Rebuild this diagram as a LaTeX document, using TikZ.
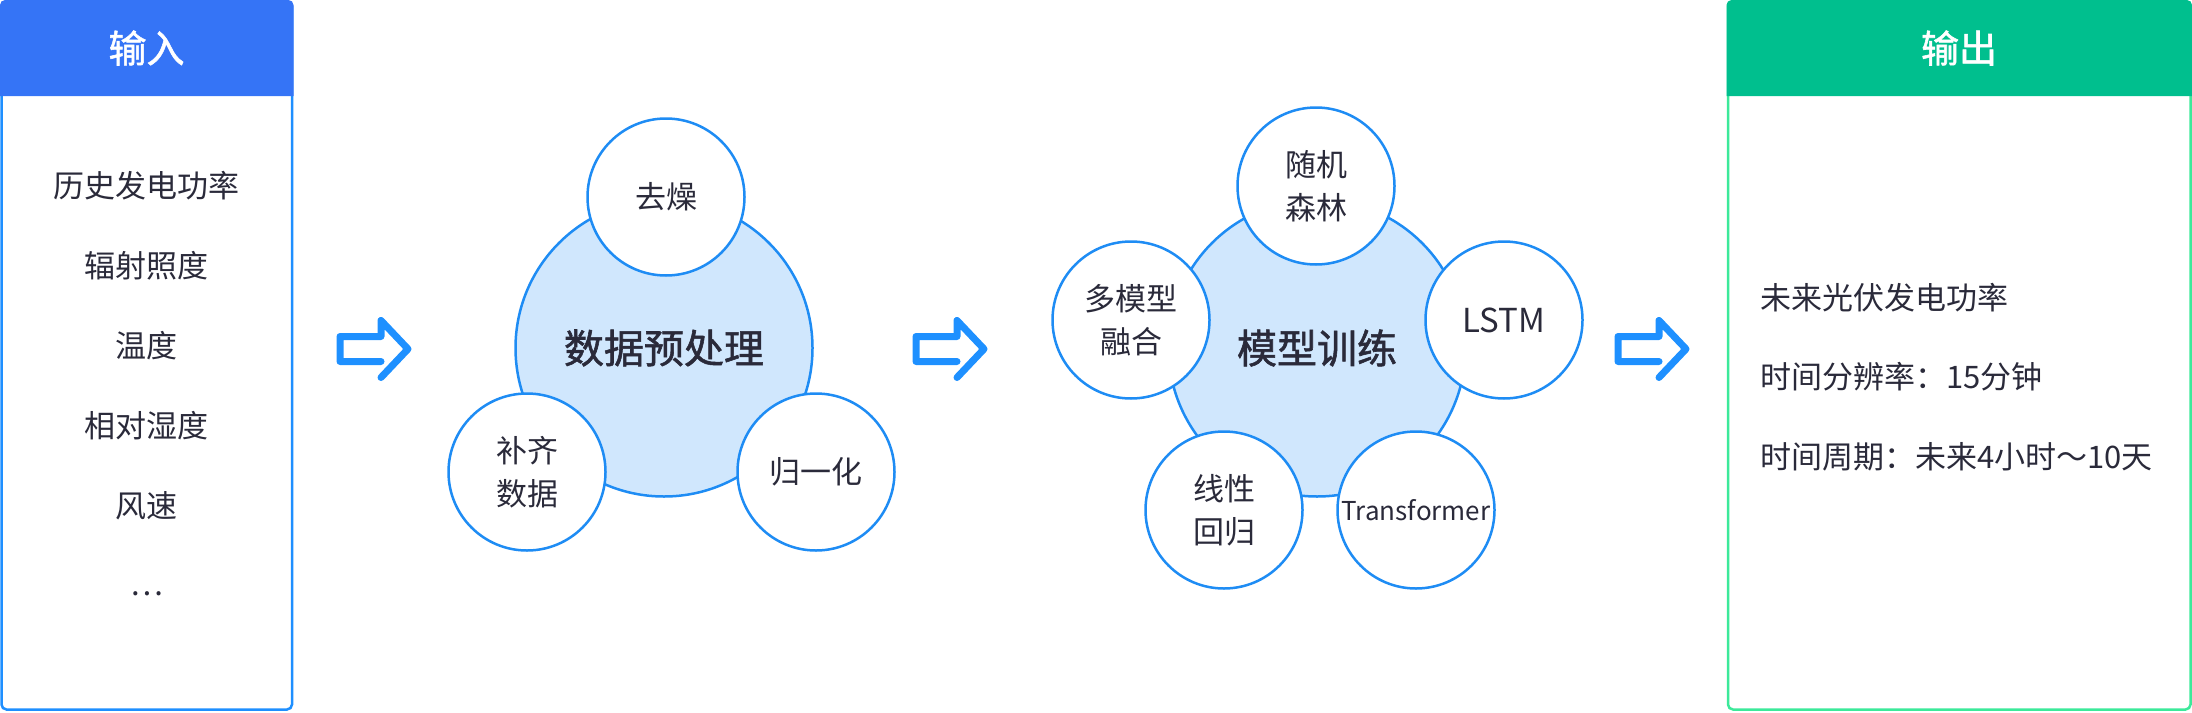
\documentclass[tikz,border=0pt]{standalone}
\usepackage{fontspec}
\setmainfont{Noto Sans CJK SC}
\newfontfamily\medfont{Noto Sans CJK SC}[FakeBold=1.4]
\definecolor{headblue}{HTML}{3574F6}
\definecolor{inborder}{HTML}{1E8FFF}
\definecolor{headgreen}{HTML}{00BF8E}
\definecolor{outborder}{HTML}{3CE99A}
\definecolor{cstroke}{HTML}{1E8CF4}
\definecolor{cfill}{HTML}{D0E7FD}
\definecolor{arrowblue}{HTML}{1E90FF}
\definecolor{textdark}{HTML}{2A2A3A}
\begin{document}
\begin{tikzpicture}[x=1pt,y=-1pt,
  txt/.style={text=textdark, inner sep=0pt, font=\fontsize{31}{43}\selectfont, align=center},
  headtxt/.style={text=white, inner sep=0pt, font=\fontsize{38}{44}\selectfont\medfont},
  bigc/.style={circle, draw=cstroke, fill=cfill, line width=2.5pt, minimum size=297pt, inner sep=0pt,
    text=textdark, font=\fontsize{40}{48}\selectfont\medfont},
  smallc/.style={circle, draw=cstroke, fill=white, line width=2.5pt, minimum size=157pt, inner sep=0pt,
    text=textdark, align=center, font=\fontsize{31}{43}\selectfont},
  arrowicon/.style={draw=arrowblue, line width=7pt, line cap=round, line join=round},
  flowarrow/.pic={\draw[arrowicon] (41,12.5) -- (0,12.5) -- (0,-12.5) -- (41,-12.5) -- (41,-28.5) -- (68,0) -- (41,28.5);}
]
\useasboundingbox (0,0) rectangle (2192,712);

% input panel
\draw[inborder, line width=2.5pt, rounded corners=5pt] (1.5,1.5) rectangle (292,709.5);
\fill[headblue] (0,96) [rounded corners=5pt] -- (0,0) -- (293.5,0) [sharp corners] -- (293.5,96) -- cycle;
\node[headtxt] (intitle) at (146.5,48) {输入};
\node[txt] (in1) at (146.5,186) {历史发电功率};
\node[txt] (in2) at (146.5,266) {辐射照度};
\node[txt] (in3) at (146.5,346) {温度};
\node[txt] (in4) at (146.5,426) {相对湿度};
\node[txt] (in5) at (146.5,506) {风速};
\node[txt] (in6) at (146.5,594) {…};

% output panel
\draw[outborder, line width=2.5pt, rounded corners=5pt] (1728,1.5) rectangle (2190.5,709.5);
\fill[headgreen] (1726.5,96) [rounded corners=5pt] -- (1726.5,0) -- (2192,0) [sharp corners] -- (2192,96) -- cycle;
\node[headtxt] (outtitle) at (1959,48) {输出};
\node[txt, anchor=west] (out1) at (1760,298) {未来光伏发电功率};
\node[txt, anchor=west] (out2) at (1760,377) {时间分辨率：15分钟};
\node[txt, anchor=west] (out3) at (1760,457) {时间周期：未来4小时～10天};

% arrows
\pic at (340,349) {flowarrow};
\pic at (916,349) {flowarrow};
\pic at (1618,349) {flowarrow};

% preprocessing
\node[bigc] (pre) at (664,348) {数据预处理};
\node[smallc] (denoise) at (666,197) {去燥};
\node[smallc] (fill) at (527,472) {补齐\\数据};
\node[smallc] (norm) at (816,472) {归一化};

% training
\node[bigc] (train) at (1317,348) {模型训练};
\node[smallc] (rf) at (1316,186) {随机\\森林};
\node[smallc, font=\fontsize{33}{40}\selectfont] (lstm) at (1504,320) {LSTM};
\node[smallc] (fuse) at (1131,320) {多模型\\融合};
\node[smallc] (lin) at (1224,510) {线性\\回归};
\node[smallc, font=\fontsize{26}{30}\selectfont] (trans) at (1416,510) {Transformer};
\end{tikzpicture}
\end{document}
